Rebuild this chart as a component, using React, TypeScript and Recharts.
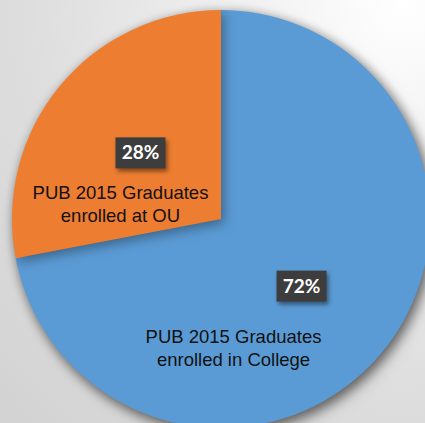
import React from 'react'
import { PieChart, Pie, Cell } from 'recharts'

const categories = ['PUB 2015 Graduates enrolled in College', 'PUB 2015 Graduates enrolled at OU']
const labelLines = [
  ['PUB 2015 Graduates', 'enrolled in College'],
  ['PUB 2015 Graduates', 'enrolled at OU'],
]
const values = [72, 28]
const colors = ['#5B9BD5', '#ED7D31']

const data = categories.map((name, i) => ({ name, value: values[i] }))

// where the category text sits relative to the percent box
const textOffsets = [
  { dx: -68, dy: 57 },
  { dx: -20, dy: 47 },
]

const RAD = Math.PI / 180

function renderLabel(props: any) {
  const { cx, cy, midAngle, outerRadius, percent, index } = props
  const r = outerRadius * 0.5
  const x = cx + r * Math.cos(-midAngle * RAD)
  const y = cy + r * Math.sin(-midAngle * RAD)
  const off = textOffsets[index]
  const lines = labelLines[index]
  return (
    <g>
      <rect
        x={x - 25}
        y={y - 15}
        width={50}
        height={31}
        fill="#3d3d3d"
        style={{ filter: 'drop-shadow(2px 3px 2px rgba(0,0,0,0.45))' }}
      />
      <text
        x={x}
        y={y + 7}
        textAnchor="middle"
        fill="#ffffff"
        fontFamily="Lato, 'Open Sans', sans-serif"
        fontWeight={700}
        fontSize={19}
      >
        {`${Math.round(percent * 100)}%`}
      </text>
      <text
        x={x + off.dx}
        y={y + off.dy}
        textAnchor="middle"
        fill="#111111"
        fontFamily="'Liberation Sans', Arial, sans-serif"
        fontSize={18.5}
      >
        {lines.map((l, i) => (
          <tspan key={i} x={x + off.dx} dy={i === 0 ? 0 : 23}>
            {l}
          </tspan>
        ))}
      </text>
    </g>
  )
}

export default function App() {
  return (
    <div
      style={{
        position: 'absolute',
        left: 0,
        top: 0,
        width: 425,
        height: 423,
        overflow: 'hidden',
        background: 'radial-gradient(ellipse at 95% 0%, #ffffff 0%, #f2f2f2 25%, #dedede 65%, #d2d2d2 100%)',
      }}
    >
      <style>{`.pie-shadow { filter: drop-shadow(3px 4px 6px rgba(0,0,0,0.35)); }`}</style>
      <PieChart width={425} height={423} margin={{ top: 0, right: 0, bottom: 0, left: 0 }}>
        <Pie
          className="pie-shadow"
          data={data}
          dataKey="value"
          nameKey="name"
          cx={221}
          cy={219}
          outerRadius={209}
          startAngle={90}
          endAngle={-270}
          stroke="none"
          isAnimationActive={false}
        >
          {data.map((d, i) => (
            <Cell key={d.name} fill={colors[i]} />
          ))}
        </Pie>
        <Pie
          data={data}
          dataKey="value"
          nameKey="name"
          cx={221}
          cy={219}
          outerRadius={209}
          startAngle={90}
          endAngle={-270}
          fill="transparent"
          stroke="none"
          label={renderLabel}
          labelLine={false}
          isAnimationActive={false}
        />
      </PieChart>
    </div>
  )
}
